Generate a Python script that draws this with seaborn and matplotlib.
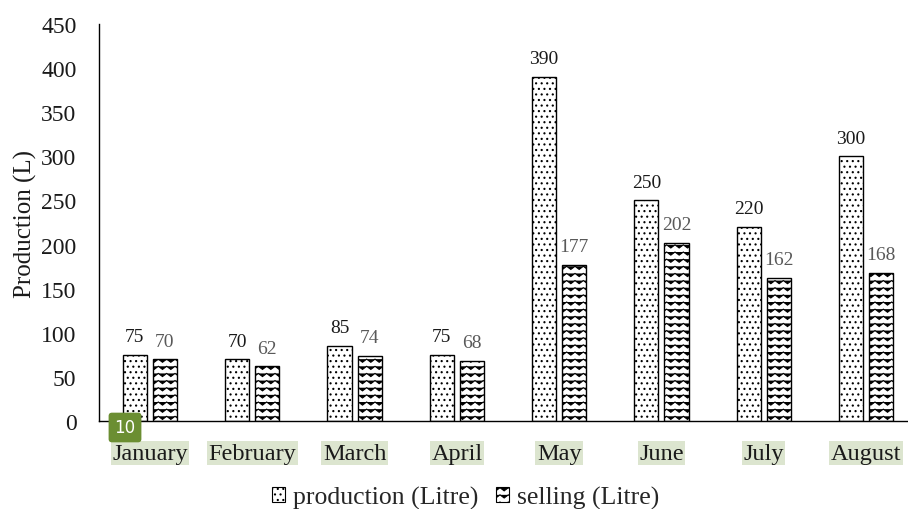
import warnings
import numpy as np
import pandas as pd
import seaborn as sns
import matplotlib
matplotlib.use("Agg")
import matplotlib.pyplot as plt
import matplotlib.hatch as mhatch
from matplotlib.path import Path
from matplotlib.patches import Patch

warnings.filterwarnings("ignore")

months = ["January", "February", "March", "April", "May", "June", "July", "August"]
production = [75, 70, 85, 75, 390, 250, 220, 300]
selling = [70, 62, 74, 68, 177, 202, 162, 168]
series_names = ["production (Litre)", "selling (Litre)"]
y_ticks = [0, 50, 100, 150, 200, 250, 300, 350, 400, 450]


class WaveHatch(mhatch.HatchPatternBase):
    # zigzag lines for the 'z' hatch character
    def __init__(self, hatch, density):
        self.num_rows = int(round(hatch.count("z") * density * 7 / 3))
        self.num_periods = 12
        self.num_vertices = self.num_rows * (2 * self.num_periods + 1)

    def set_vertices_and_codes(self, vertices, codes):
        n = 2 * self.num_periods + 1
        xs = np.linspace(0, 1, n)
        amp = 0.22 / self.num_rows
        signs = np.where(np.arange(n) % 2 == 0, 1.0, -1.0)
        for i in range(self.num_rows):
            y0 = (i + 0.5) / self.num_rows
            vertices[i * n:(i + 1) * n, 0] = xs
            vertices[i * n:(i + 1) * n, 1] = y0 + amp * signs
            codes[i * n] = Path.MOVETO
            codes[i * n + 1:(i + 1) * n] = Path.LINETO


mhatch._hatch_types.append(WaveHatch)

sns.set_style("white")
plt.rcParams["font.family"] = ["Liberation Serif", "DejaVu Serif"]
plt.rcParams["hatch.linewidth"] = 0.8

df = pd.DataFrame({
    "month": months * 2,
    "value": production + selling,
    "series": [series_names[0]] * len(months) + [series_names[1]] * len(months),
})

fig = plt.figure(figsize=(9.08, 5.10), dpi=100)
ax = fig.add_axes([98.75 / 908, 88 / 510, 818.5 / 908, 397 / 510])

sns.barplot(data=df, x="month", y="value", hue="series", order=months,
            hue_order=series_names, palette=["white", "white"], width=0.59,
            gap=0.2, edgecolor="black", linewidth=1.0, legend=False, ax=ax)

hatches = ["...", "z"]
label_colors = ["#1a1a1a", "#595959"]
for cont, hatch, col in zip(ax.containers, hatches, label_colors):
    for bar in cont:
        bar.set_hatch(hatch)
    ax.bar_label(cont, padding=7, fontsize=14, color=col)

ax.set_ylim(0, 450)
ax.set_xlim(-0.5, 7.5)
ax.set_yticks(y_ticks)
ax.set_xlabel("")
ax.set_ylabel("Production (L)", fontsize=18, color="#1a1a1a", labelpad=3)
ax.tick_params(axis="y", length=0, pad=16, labelsize=17, labelcolor="#1a1a1a")
ax.tick_params(axis="x", length=0, pad=15.5, labelsize=17.5, labelcolor="#1a1a1a")
for lbl in ax.get_xticklabels():
    lbl.set_bbox(dict(facecolor="#dce5cf", edgecolor="none", pad=1))

sns.despine(ax=ax)
for side in ["left", "bottom"]:
    ax.spines[side].set_color("black")
    ax.spines[side].set_linewidth(1.0)

handles = [Patch(facecolor="white", edgecolor="black", hatch=h, linewidth=0.8)
           for h in hatches]
fig.legend(handles, series_names, loc="lower center", bbox_to_anchor=(0.513, -0.045),
           ncol=2, frameon=False, fontsize=18.5, handlelength=0.5, handleheight=0.5,
           handletextpad=0.3, columnspacing=0.7)

fig.text(125 / 908, 1 - 428.5 / 510, "10", ha="center", va="center", color="white",
         fontsize=12, family="DejaVu Sans",
         bbox=dict(boxstyle="round,pad=0.35,rounding_size=0.2",
                   facecolor="#6b8e32", edgecolor="none"))

fig.savefig("out.png", dpi=100)
